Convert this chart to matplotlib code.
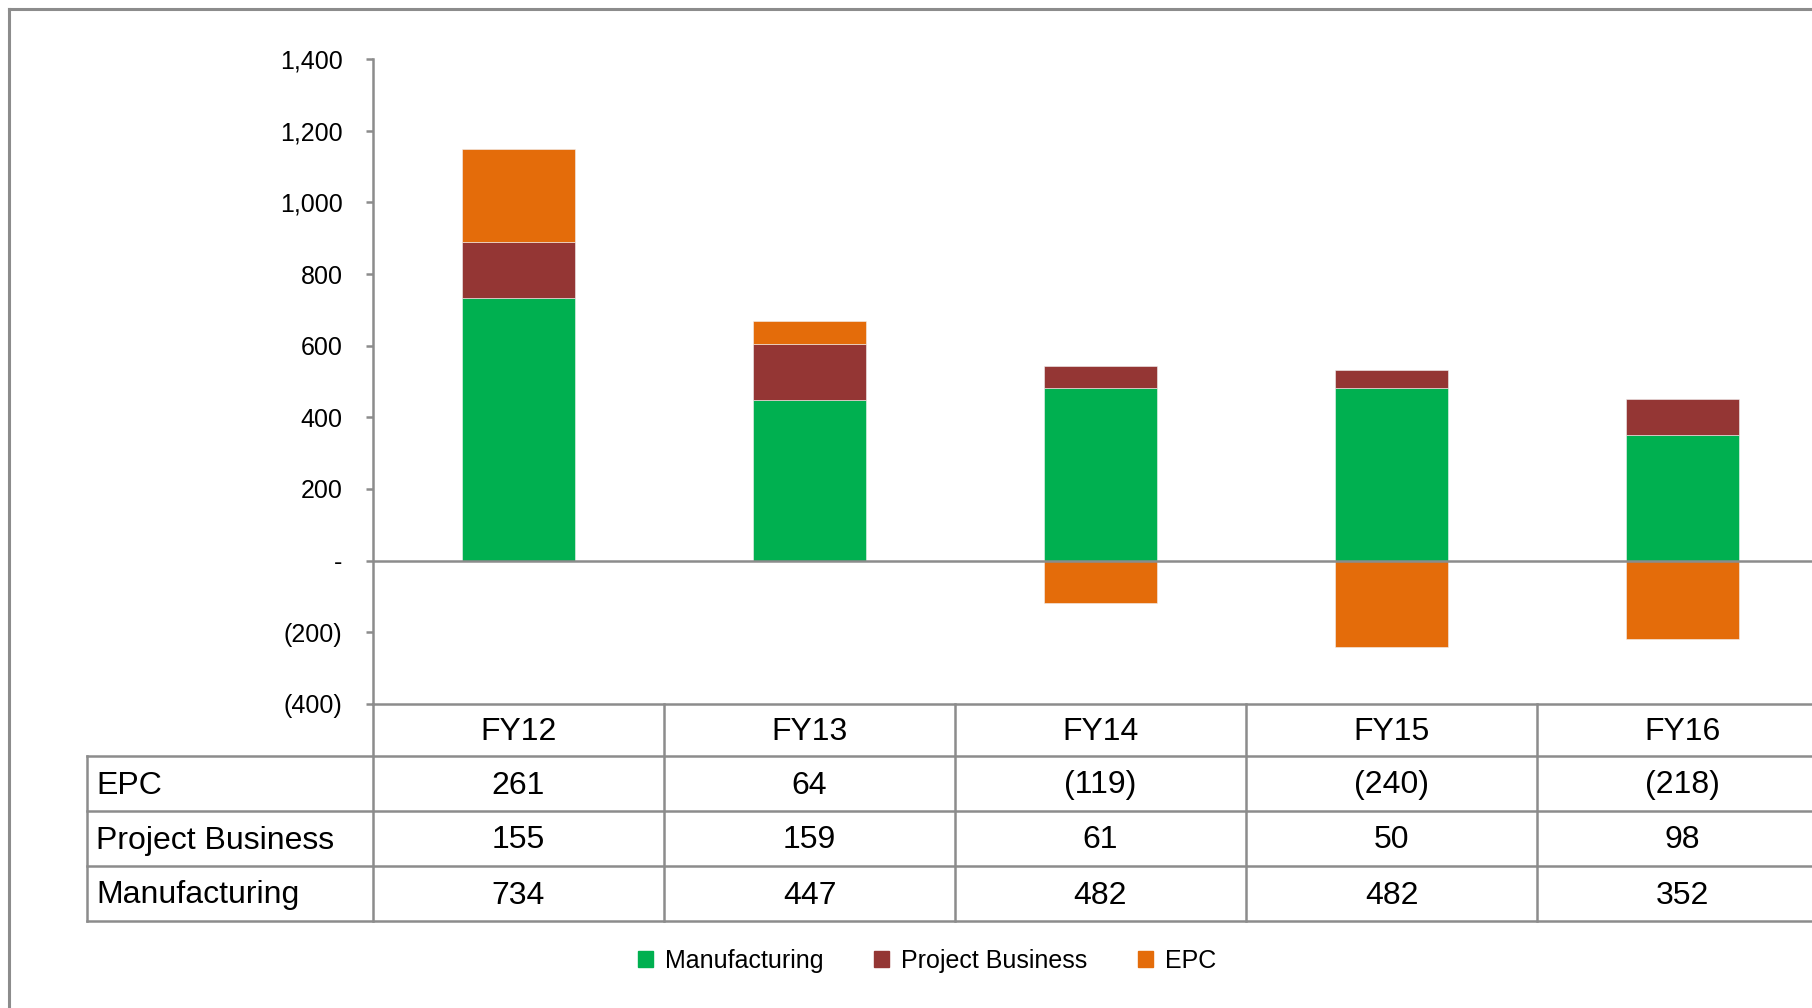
import matplotlib
matplotlib.use("Agg")
from matplotlib import pyplot as plt
from matplotlib.lines import Line2D
from matplotlib.patches import Patch
from matplotlib.ticker import FuncFormatter, MultipleLocator
import numpy as np

years = ["FY12", "FY13", "FY14", "FY15", "FY16"]
manufacturing = [734, 447, 482, 482, 352]
project_business = [155, 159, 61, 50, 98]
epc = [261, 64, -119, -240, -218]

GREEN = "#00b050"
RED = "#943634"
ORANGE = "#e46c0a"
GREY = "#8c8c8c"

W, H = 1812, 1008
plt.rcParams["font.family"] = ["Liberation Sans", "DejaVu Sans"]


def fmt_num(v, pos=None):
    if v == 0:
        return "-"
    if v < 0:
        return "({:,.0f})".format(-v)
    return "{:,.0f}".format(v)


fig = plt.figure(figsize=(W / 100, H / 100), dpi=100)
fig.patch.set_facecolor("white")

# axes runs a bit past the right edge, like the original slide crop
ax = fig.add_axes([373 / W, 1 - 704 / H, (1828 - 373) / W, (704 - 59) / H])
ax.set_xlim(-0.5, 4.5)
ax.set_ylim(-400, 1400)

x = np.arange(len(years))
width = 0.39
series = [("Manufacturing", manufacturing, GREEN),
          ("Project Business", project_business, RED),
          ("EPC", epc, ORANGE)]
pos_base = np.zeros(len(years))
neg_base = np.zeros(len(years))
for name, vals, color in series:
    vals = np.array(vals, dtype=float)
    base = np.where(vals >= 0, pos_base, neg_base)
    ax.bar(x, vals, width, bottom=base, color=color, edgecolor="#f2f2f2",
           linewidth=0.4, label=name, zorder=2)
    pos_base = pos_base + np.where(vals >= 0, vals, 0)
    neg_base = neg_base + np.where(vals < 0, vals, 0)

ax.axhline(0, color=GREY, lw=1.8, zorder=3)
for s in ["top", "right"]:
    ax.spines[s].set_visible(False)
for s in ["left", "bottom"]:
    ax.spines[s].set_color(GREY)
    ax.spines[s].set_linewidth(1.8)
ax.yaxis.set_major_locator(MultipleLocator(200))
ax.yaxis.set_major_formatter(FuncFormatter(fmt_num))
ax.tick_params(axis="y", length=5, width=1.8, color=GREY, labelsize=18, pad=17)
ax.set_xticks([])

# data table under the chart
to_fig = fig.transFigure.inverted()


def fx(xd):
    return to_fig.transform(ax.transData.transform((xd, 0)))[0]


def fy(py):
    return 1 - py / H


row_edges = [704, 756, 811, 866, 921]
label_left = 87
right_end = 1.02
line_kw = dict(color=GREY, lw=1.8, transform=fig.transFigure, clip_on=False)

for py in row_edges[1:]:
    fig.add_artist(Line2D([label_left / W, right_end], [fy(py), fy(py)], **line_kw))
fig.add_artist(Line2D([label_left / W] * 2, [fy(756), fy(921)], **line_kw))
for i in range(len(years) + 1):
    xf = fx(i - 0.5)
    fig.add_artist(Line2D([xf, xf], [fy(704), fy(921)], **line_kw))

for i, yr in enumerate(years):
    fig.text(fx(i), fy((row_edges[0] + row_edges[1]) / 2 + 2), yr, ha="center",
             va="center", fontsize=23)

table_rows = [("EPC", epc), ("Project Business", project_business),
              ("Manufacturing", manufacturing)]
for r, (name, vals) in enumerate(table_rows):
    yc = fy((row_edges[r + 1] + row_edges[r + 2]) / 2 + 2)
    fig.text(96 / W, yc, name, ha="left", va="center", fontsize=23)
    for i, v in enumerate(vals):
        fig.text(fx(i), yc, fmt_num(v), ha="center", va="center", fontsize=23)

# legend
handles = [Patch(color=c, label=n) for n, _, c in series]
fig.legend(handles=handles, loc="center", bbox_to_anchor=(927 / W, fy(961)),
           ncol=3, frameon=False, fontsize=18, handlelength=0.6,
           handleheight=0.6, handletextpad=0.5, columnspacing=2.0)

# slide frame (left and top edges only)
frame_kw = dict(color=GREY, lw=2.2, transform=fig.transFigure)
fig.add_artist(Line2D([9 / W, 9 / W], [fy(9), 0], **frame_kw))
fig.add_artist(Line2D([9 / W, 1], [fy(9), fy(9)], **frame_kw))

fig.savefig("out.png", dpi=100)
